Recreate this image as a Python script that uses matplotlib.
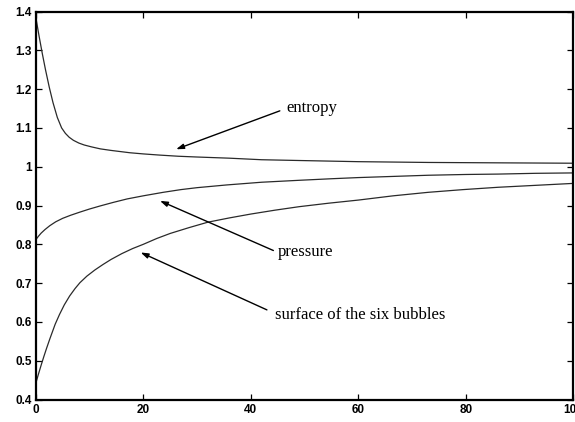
import matplotlib
matplotlib.use("Agg")
import matplotlib.pyplot as plt

# Relative quantities versus time
entropy_x = [0, 0.6, 1.2, 1.8, 2.5, 3.2, 4.0, 4.8, 5.5, 6.2, 7.0, 8.0, 9.0, 10.4, 12, 14,
             17.5, 20, 23, 26.5, 30, 36, 42, 49, 60, 73, 86, 100]
entropy_y = [1.385, 1.337, 1.292, 1.25, 1.205, 1.165, 1.127, 1.100, 1.086, 1.076, 1.068,
             1.061, 1.056, 1.051, 1.046, 1.042, 1.036, 1.033, 1.030, 1.027, 1.025, 1.022,
             1.018, 1.016, 1.013, 1.011, 1.010, 1.009]

pressure_x = [0, 0.5, 1, 1.7, 2.6, 3.7, 5, 6.5, 8.2, 10, 12, 14.4, 17, 20, 23.7, 27, 30, 35.5,
              42, 49, 55, 60, 66.5, 73, 80, 86, 93, 100]
pressure_y = [0.812, 0.821, 0.829, 0.838, 0.848, 0.858, 0.867, 0.875, 0.883, 0.891, 0.899,
              0.908, 0.917, 0.925, 0.934, 0.941, 0.946, 0.953, 0.960, 0.965, 0.969, 0.972,
              0.975, 0.978, 0.980, 0.981, 0.983, 0.984]

surface_x = [0, 0.5, 1.0, 1.5, 2.0, 2.6, 3.1, 3.6, 4.4, 5.3, 6.3, 7.3, 8.2, 9.5, 11, 12.5, 14,
             16, 18, 20, 22.5, 25, 28.5, 32, 36, 40, 44.5, 49, 54.5, 60, 66.5, 73, 79.5, 86,
             93, 100]
surface_y = [0.442, 0.466, 0.489, 0.511, 0.532, 0.556, 0.575, 0.594, 0.619, 0.644, 0.667,
             0.686, 0.701, 0.718, 0.734, 0.748, 0.761, 0.776, 0.789, 0.80, 0.815, 0.828,
             0.843, 0.857, 0.868, 0.878, 0.888, 0.897, 0.906, 0.914, 0.925, 0.934, 0.941,
             0.947, 0.952, 0.957]

x_ticks = [0, 20, 40, 60, 80, 100]
y_ticks = [0.4, 0.5, 0.6, 0.7, 0.8, 0.9, 1.0, 1.1, 1.2, 1.3, 1.4]
y_tick_labels = ["0.4", "0.5", "0.6", "0.7", "0.8", "0.9", "1", "1.1", "1.2", "1.3", "1.4"]

fig = plt.figure(figsize=(5.75, 4.22), dpi=100)
ax = fig.add_axes([0.0623, 0.0533, 0.9347, 0.9194])

line_kw = dict(color="#2a2a2a", lw=0.9, solid_joinstyle="round")
ax.plot(entropy_x, entropy_y, **line_kw)
ax.plot(pressure_x, pressure_y, **line_kw)
ax.plot(surface_x, surface_y, **line_kw)

ax.set_xlim(0, 100)
ax.set_ylim(0.4, 1.4)
ax.set_xticks(x_ticks)
ax.set_yticks(y_ticks)
ax.set_yticklabels(y_tick_labels)

for s in ax.spines.values():
    s.set_linewidth(1.6)
ax.tick_params(direction="in", length=4, width=0.9, top=True, right=True,
               labelsize=8.5, pad=3)
for lab in ax.get_xticklabels() + ax.get_yticklabels():
    lab.set_fontfamily("Liberation Sans")
    lab.set_fontweight("bold")

arrow = dict(arrowstyle="-|>,head_length=0.45,head_width=0.15", color="black", lw=1.0,
             shrinkA=0, shrinkB=0)
text_kw = dict(fontfamily="Liberation Serif", fontsize=12, ha="left", va="center",
               color="black")

ax.annotate("", xy=(26.1, 1.045), xytext=(45.4, 1.144), arrowprops=arrow)
ax.text(46.7, 1.151, "entropy", **text_kw)

ax.annotate("", xy=(23.1, 0.912), xytext=(44.2, 0.784), arrowprops=arrow)
ax.text(45.1, 0.781, "pressure", **text_kw)

ax.annotate("", xy=(19.5, 0.779), xytext=(43.0, 0.631), arrowprops=arrow)
ax.text(44.5, 0.618, "surface of the six bubbles", **text_kw)

fig.savefig("out.png", dpi=100)
